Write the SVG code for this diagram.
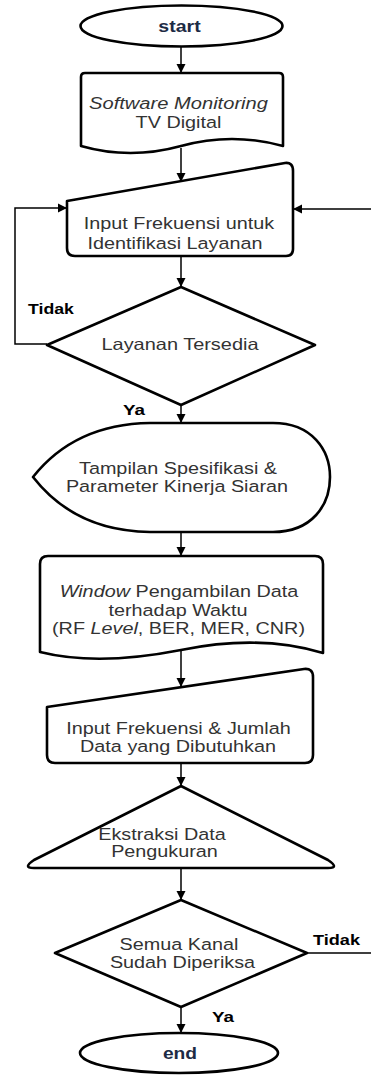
<svg xmlns="http://www.w3.org/2000/svg" width="371" height="1075" viewBox="0 0 371 1075">
<style>
.shape{fill:#fff;stroke:#000;stroke-width:2.6;stroke-linejoin:round}
.conn{fill:none;stroke:#000;stroke-width:1.5}
.t{font-family:"Liberation Sans",Arial,sans-serif;font-size:16.5px;fill:#333;text-anchor:middle}
.term{font-family:"Liberation Sans",Arial,sans-serif;font-size:16px;font-weight:bold;fill:#1d2b45;text-anchor:middle}
.lbl{font-family:"Liberation Sans",Arial,sans-serif;font-size:14.5px;font-weight:bold;fill:#000;text-anchor:start}
.i{font-style:italic}
</style>
<defs>
<marker id="arr" viewBox="0 0 10 10" markerWidth="9" markerHeight="11" refX="10" refY="5" orient="auto" markerUnits="userSpaceOnUse">
<path d="M0,0 L10,5 L0,10 z" fill="#000"/>
</marker>
</defs>
<rect width="371" height="1075" fill="#fff"/>

<g id="connectors">
<line class="conn" x1="181" y1="47" x2="181" y2="73" marker-end="url(#arr)"/>
<line class="conn" x1="181" y1="148" x2="181" y2="182" marker-end="url(#arr)"/>
<line class="conn" x1="181" y1="256" x2="181" y2="287" marker-end="url(#arr)"/>
<line class="conn" x1="181" y1="405" x2="181" y2="423" marker-end="url(#arr)"/>
<line class="conn" x1="181" y1="532" x2="181" y2="556" marker-end="url(#arr)"/>
<line class="conn" x1="181" y1="650" x2="181" y2="687" marker-end="url(#arr)"/>
<line class="conn" x1="181" y1="763" x2="181" y2="786" marker-end="url(#arr)"/>
<line class="conn" x1="181" y1="868" x2="181" y2="900" marker-end="url(#arr)"/>
<line class="conn" x1="181" y1="1007" x2="181" y2="1033" marker-end="url(#arr)"/>
<path class="conn" d="M47,344 H15 V208 H67" marker-end="url(#arr)"/>
<path class="conn" d="M307,953 H374 V209 H293" marker-end="url(#arr)"/>
</g>

<g id="start">
<ellipse class="shape" cx="181.5" cy="26" rx="101" ry="20.5"/>
<text class="term" transform="translate(179.5,32) scale(1.22,1)">start</text>
</g>

<g id="software">
<path class="shape" d="M85,73 H279 Q283,73 283,77 V146 Q232,132 181,146 Q130,160 81,146 V77 Q81,73 85,73 Z"/>
<text class="t" transform="translate(178.5,109) scale(1.22,1)"><tspan class="i">Software Monitoring</tspan></text>
<text class="t" transform="translate(178.5,128) scale(1.2,1)">TV Digital</text>
</g>

<g id="input1">
<path class="shape" d="M67,201 L285,163 Q293,162 293,171 V249 Q293,256 286,256 H75 Q67,256 67,248 Z"/>
<text class="t" transform="translate(179,228.5) scale(1.2,1)">Input Frekuensi untuk</text>
<text class="t" transform="translate(175,248.5) scale(1.2,1)">Identifikasi Layanan</text>
</g>

<g id="decision1">
<path class="shape" d="M181,287 L315,345 L181,405 L47,345 Z"/>
<text class="t" transform="translate(180,350) scale(1.21,1)">Layanan Tersedia</text>
<text class="lbl" transform="translate(28,314) scale(1.22,1)">Tidak</text>
<text class="lbl" transform="translate(123,414.5) scale(1.3,1)">Ya</text>
</g>

<g id="display">
<path class="shape" d="M33,477 Q75,424 150,423 H273 C312,423 330,450 330,477 C330,505 312,532 273,532 H150 Q75,531 33,477 Z"/>
<text class="t" transform="translate(178,474) scale(1.2,1)">Tampilan Spesifikasi &amp;</text>
<text class="t" transform="translate(177,492) scale(1.2,1)">Parameter Kinerja Siaran</text>
</g>

<g id="window">
<path class="shape" d="M48,556 H315 Q323,556 323,564 V653 C280,640 230,640 181,650 C130,660 80,662 40,652 V564 Q40,556 48,556 Z"/>
<text class="t" transform="translate(179,597) scale(1.2,1)"><tspan class="i">Window</tspan> Pengambilan Data</text>
<text class="t" transform="translate(178,616) scale(1.2,1)">terhadap Waktu</text>
<text class="t" transform="translate(178.5,633.5) scale(1.2,1)">(RF <tspan class="i">Level</tspan>, BER, MER, CNR)</text>
</g>

<g id="input2">
<path class="shape" d="M47,707 L304,669 Q313,668 313,677 V755 Q313,763 305,763 H55 Q47,763 47,755 Z"/>
<text class="t" transform="translate(178.5,733.5) scale(1.2,1)">Input Frekuensi &amp; Jumlah</text>
<text class="t" transform="translate(178,752) scale(1.2,1)">Data yang Dibutuhkan</text>
</g>

<g id="extract">
<path class="shape" d="M181,786 L34,860 Q22,868 34,868 H328 Q340,868 328,860 Z"/>
<text class="t" transform="translate(162,839.5) scale(1.2,1)">Ekstraksi Data</text>
<text class="t" transform="translate(164.5,857) scale(1.2,1)">Pengukuran</text>
</g>

<g id="decision2">
<path class="shape" d="M181,900 L307,953 L181,1007 L55,953 Z"/>
<text class="t" transform="translate(179,949.5) scale(1.2,1)">Semua Kanal</text>
<text class="t" transform="translate(182.5,968) scale(1.2,1)">Sudah Diperiksa</text>
<text class="lbl" transform="translate(313,945) scale(1.25,1)">Tidak</text>
<text class="lbl" transform="translate(212,1022) scale(1.3,1)">Ya</text>
</g>

<g id="end">
<ellipse class="shape" cx="179" cy="1053" rx="99" ry="20"/>
<text class="term" transform="translate(180,1058.5) scale(1.2,1)">end</text>
</g>
</svg>
